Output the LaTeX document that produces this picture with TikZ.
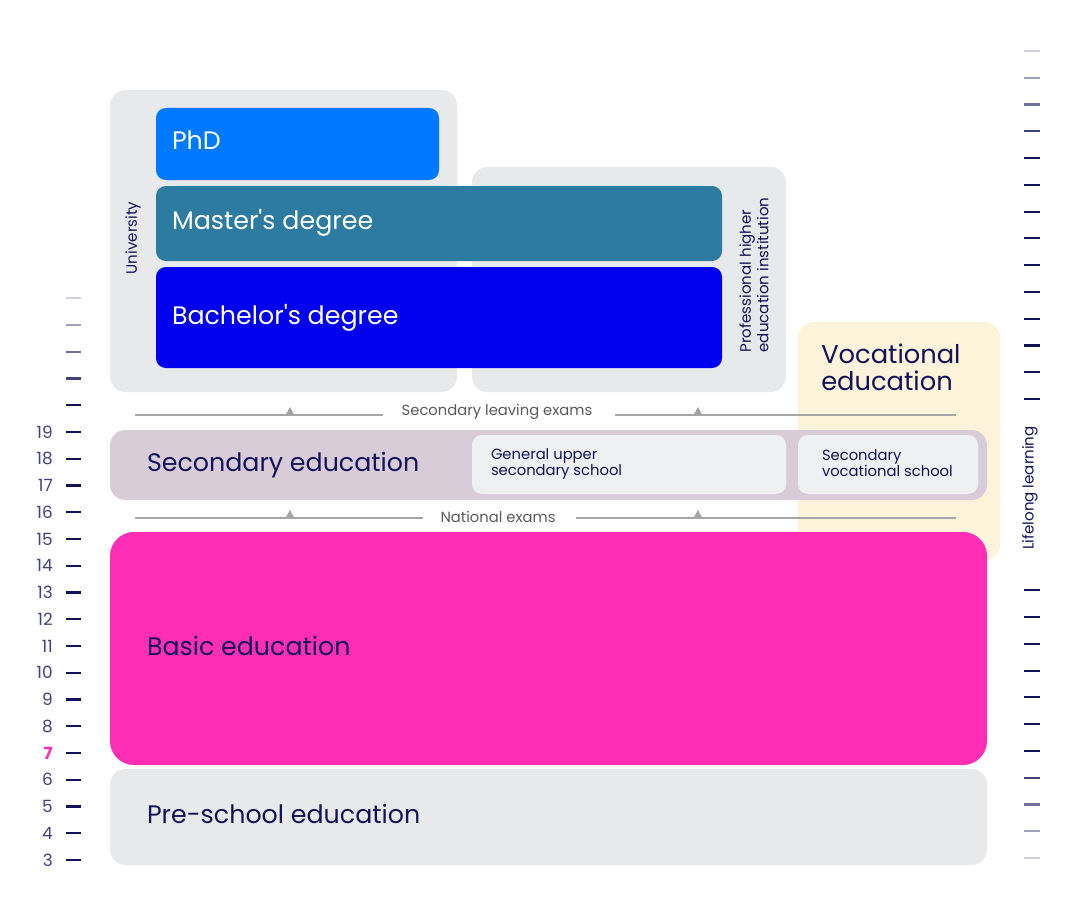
\documentclass[tikz,border=0pt]{standalone}
\usepackage{fontspec}
\setmainfont{Poppins}
\usetikzlibrary{positioning,fit,calc}

\definecolor{navy}{HTML}{12125A}
\definecolor{boxgray}{HTML}{E8E9EB}
\definecolor{phdblue}{HTML}{0079FF}
\definecolor{masterteal}{HTML}{2D7BA0}
\definecolor{bachblue}{HTML}{0000EE}
\definecolor{cream}{HTML}{FCF3DA}
\definecolor{seclilac}{HTML}{D9CCD9}
\definecolor{subgray}{HTML}{EFF0F2}
\definecolor{basicpink}{HTML}{FF2EB4}
\definecolor{examgray}{HTML}{A6A6A6}
\definecolor{examtext}{HTML}{5A5A5A}

\tikzset{
  block/.style={inner sep=0pt, rounded corners=11pt},
  degree/.style={inner sep=0pt, rounded corners=7pt},
  bigtext/.style={inner sep=0pt, anchor=west, text=navy, font=\fontsize{18}{20}\selectfont},
  whitetext/.style={bigtext, text=white},
  smalltext/.style={inner sep=0pt, anchor=west, text=navy, align=left, font=\fontsize{10.5}{11.4}\selectfont},
  sidetext/.style={inner sep=0pt, rotate=90, text=navy, align=left, font=\fontsize{10.7}{12.4}\selectfont},
  examline/.style={draw=examgray, line width=1.4pt},
  examtip/.style={fill=examgray},
  examlabel/.style={inner sep=0pt, text=examtext, font=\fontsize{10.5}{13}\selectfont},
  tick/.style={line width=1.5pt},
  agenum/.style={inner sep=0pt, anchor=east, text=navy!80, font=\fontsize{12}{14}\selectfont}
}

\begin{document}
\begin{tikzpicture}[x=0.025cm, y=-0.025cm]
  \useasboundingbox (0,0) rectangle (1080,900);

  % Age axis
  \foreach \i in {0,...,21} {
    \pgfmathsetmacro\yy{860-26.75*\i}
    \pgfmathtruncatemacro\cc{min(100,20+20*(21-\i))}
    \draw[tick, draw=navy!\cc] (66,\yy) -- (81,\yy);
  }
  \foreach \n in {3,...,6,8,9,...,19} {
    \pgfmathsetmacro\yy{860-26.75*(\n-3)}
    \node[agenum] (age\n) at (53,\yy) {\n};
  }
  \node[agenum, text=basicpink, font=\fontsize{12}{14}\bfseries] (age7) at (53,753) {7};

  % Lifelong learning axis
  \foreach \k in {0,...,13} {
    \pgfmathsetmacro\yy{51+26.77*\k}
    \pgfmathtruncatemacro\cc{min(100,20+20*\k)}
    \draw[tick, draw=navy!\cc] (1024,\yy) -- (1040,\yy);
  }
  \foreach \k in {0,...,10} {
    \pgfmathsetmacro\yy{858-26.77*\k}
    \pgfmathtruncatemacro\cc{min(100,20+20*\k)}
    \draw[tick, draw=navy!\cc] (1024,\yy) -- (1040,\yy);
  }
  \node[sidetext] (lifelong) at (1030,488) {Lifelong learning};

  % Higher education
  \node[block, fill=boxgray, fit={(110,90) (457,392)}] (uni) {};
  \node[block, fill=boxgray, fit={(472,167) (786,392)}] (prof) {};
  \node[degree, fill=phdblue, fit={(156,108) (439,180)}] (phd) {};
  \node[degree, fill=masterteal, fit={(156,186) (722,261)}] (master) {};
  \node[degree, fill=bachblue, fit={(156,267) (722,368)}] (bachelor) {};
  \node[whitetext] (phdtext) at ($(phd.west)+(16,-4)$) {PhD};
  \node[whitetext] (mastertext) at ($(master.west)+(16,-1)$) {Master\textquotesingle s degree};
  \node[whitetext] (bachtext) at ($(bachelor.west)+(16,0)$) {Bachelor\textquotesingle s degree};
  \node[sidetext] (unitext) at (133,238) {University};
  \node[sidetext] (proftext) at (754,275) {Professional higher\\education institution};

  % Vocational education
  \node[block, fill=cream, fit={(798,322) (1000,560)}] (voc) {};
  \node[bigtext, align=left, font=\fontsize{18.3}{19.2}\selectfont] (voctext) at (821,367) {Vocational\\education};

  % Secondary education
  \node[block, fill=seclilac, fit={(110,430) (987,500)}] (sec) {};
  \node[degree, fill=subgray, fit={(472,435) (786,494)}] (general) {};
  \node[degree, fill=subgray, fit={(798,435) (978,494)}] (secvoc) {};
  \node[bigtext] (sectext) at ($(sec.west)+(37,0)$) {Secondary education};
  \node[smalltext] (gentext) at ($(general.west)+(19,-1)$) {General upper\\secondary school};
  \node[smalltext] (secvoctext) at ($(secvoc.west)+(24,-1)$) {Secondary\\vocational school};

  % Exams
  \node[examlabel] (leaving) at (497,412) {Secondary leaving exams};
  \node[examlabel] (national) at (498,517) {National exams};
  \coordinate (leaveL) at (135,415);
  \coordinate (leaveM) at (383,415);
  \coordinate (leaveN) at (615,415);
  \coordinate (leaveR) at (956,415);
  \coordinate (natL) at (135,518);
  \coordinate (natM) at (423,518);
  \coordinate (natN) at (576,518);
  \coordinate (natR) at (956,518);
  \draw[examline] (leaveL) -- (leaveM);
  \draw[examline] (leaveN) -- (leaveR);
  \draw[examline] (natL) -- (natM);
  \draw[examline] (natN) -- (natR);
  \foreach \x in {290,698} {
    \fill[examtip] (\x-4.5,415) -- (\x,407) -- (\x+4.5,415) -- cycle;
    \fill[examtip] (\x-4.5,518) -- (\x,510) -- (\x+4.5,518) -- cycle;
  }

  % Basic and pre-school education
  \node[inner sep=0pt, rounded corners=17pt, fill=basicpink, fit={(110,532) (987,765)}] (basic) {};
  \node[block, fill=boxgray, fit={(110,769) (987,865)}] (preschool) {};
  \node[bigtext] (basictext) at ($(basic.west)+(37,-3)$) {Basic education};
  \node[bigtext] (pretext) at ($(preschool.west)+(37,-3)$) {Pre-school education};
\end{tikzpicture}
\end{document}
